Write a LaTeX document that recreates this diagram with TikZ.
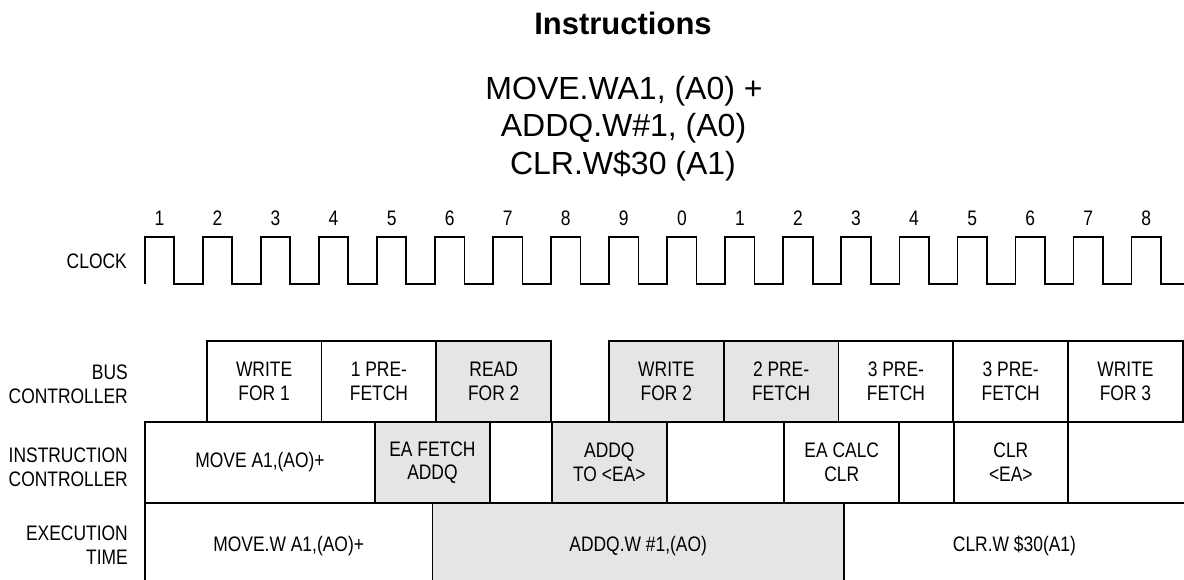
\documentclass[tikz,border=0pt]{standalone}
\usepackage{fontspec}
\setmainfont{Liberation Sans}
\newfontfamily\narrowsans{Liberation Sans}[FakeStretch=0.83]
\usepackage{tikz}
\usetikzlibrary{positioning}

\newcommand{\cellfont}{\narrowsans\fontsize{21}{23.7}\selectfont}
\tikzset{
  cell/.style={draw, line width=1.7pt, inner sep=0pt, outer sep=0pt, align=center, font=\cellfont},
  busy/.style={cell, fill=black!10},
  buscell/.style={minimum width=114.8pt, minimum height=81pt},
  rowlab/.style={anchor=east, align=right, inner sep=0pt, font=\cellfont},
  cyclenum/.style={inner sep=0pt, font=\cellfont},
  biglines/.style={anchor=base, inner sep=0pt, font=\fontsize{32}{38}\selectfont},
  wave/.style={line width=1.7pt, line join=miter},
}

\begin{document}
\begin{tikzpicture}[x=1pt, y=-1pt]
\clip (0,0) rectangle (1184,579);

% heading
\node[anchor=base, inner sep=0pt, font=\bfseries\fontsize{31}{36}\selectfont] (title) at (623,34) {Instructions};
\node[biglines] (ins1) at (624,99.3) {MOVE.WA1, (A0) +};
\node[biglines] (ins2) at (623.5,136.7) {ADDQ.W\#1, (A0)};
\node[biglines] (ins3) at (623,174) {CLR.W\$30 (A1)};

% clock
\node[rowlab] (lclock) at (127,261.7) {CLOCK};
\draw[wave] (144.7,284) \foreach \k in {1,...,19} { -- ++(0,-47) -- ++(29.4,0) -- ++(0,47) -- ++(28.65,0) };
\foreach \k in {0,...,17} {
  \pgfmathtruncatemacro{\cyc}{mod(\k+1,10)}
  \node[cyclenum] (c\k) at (159.4+58.05*\k,218.3) {\cyc};
}

% row labels
\node[rowlab] (lbus) at (128,384) {BUS\\CONTROLLER};
\node[rowlab] (linstr) at (128,467.5) {INSTRUCTION\\CONTROLLER};
\node[rowlab] (lexec) at (128,545.5) {EXECUTION\\TIME};

% bus controller
\node[cell, buscell, anchor=north west] (bw1) at (206.7,341) {WRITE\\FOR 1};
\node[cell, buscell, right=0pt of bw1] (bp1) {1 PRE-\\FETCH};
\node[busy, buscell, right=0pt of bp1] (br2) {READ\\FOR 2};
\node[busy, buscell, right=57.8pt of br2] (bw2) {WRITE\\FOR 2};
\node[busy, buscell, right=0pt of bw2] (bp2) {2 PRE-\\FETCH};
\node[cell, buscell, right=0pt of bp2] (bp3a) {3 PRE-\\FETCH};
\node[cell, buscell, right=0pt of bp3a] (bp3b) {3 PRE-\\FETCH};
\node[cell, buscell, right=0pt of bp3b] (bw3) {WRITE\\FOR 3};

% instruction controller
\node[cell, minimum width=230pt, minimum height=81pt, anchor=north west] (imove) at (145,422) {MOVE A1,(AO)+};
\node[busy, minimum width=114.9pt, minimum height=81pt, right=0pt of imove] (ifetch) {EA FETCH\\ADDQ};
\node[cell, minimum width=62pt, minimum height=81pt, right=0pt of ifetch] (igap1) {};
\node[busy, minimum width=114.8pt, minimum height=81pt, right=0pt of igap1] (iaddq) {ADDQ\\TO <EA>};
\node[cell, minimum width=117.5pt, minimum height=81pt, right=0pt of iaddq] (igap2) {};
\node[cell, minimum width=115.1pt, minimum height=81pt, right=0pt of igap2] (icalc) {EA CALC\\CLR};
\node[cell, minimum width=54.4pt, minimum height=81pt, right=0pt of icalc] (igap3) {};
\node[cell, minimum width=114.3pt, minimum height=81pt, right=0pt of igap3] (iclr) {CLR\\<EA>};
\node[cell, minimum width=130pt, minimum height=81pt, right=0pt of iclr] (igap4) {};

% execution time
\node[cell, minimum width=287.4pt, minimum height=86pt, anchor=north west] (xmove) at (145,503) {MOVE.W A1,(AO)+};
\node[busy, minimum width=411.5pt, minimum height=86pt, right=0pt of xmove] (xaddq) {ADDQ.W \#1,(AO)};
\node[cell, minimum width=341.1pt, minimum height=86pt, right=0pt of xaddq] (xclr) {CLR.W \$30(A1)};
\end{tikzpicture}
\end{document}
